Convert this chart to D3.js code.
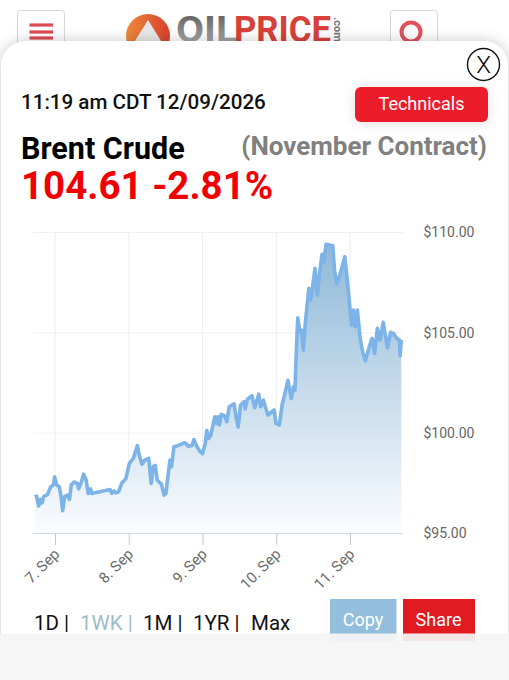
<!DOCTYPE html>
<html><head><meta charset="utf-8">
<script src="https://cdn.jsdelivr.net/npm/d3@7/dist/d3.min.js"></script>
<style>html,body{margin:0;padding:0;background:#fff;overflow:hidden}svg{display:block;font-family:Roboto,sans-serif}</style>
</head><body><svg id="c" width="509" height="680"></svg>
<script>
// Hours after 7 Sep 00:00
const hours=[-6.6,-6.0,-5.3,-4.7,-4.2,-3.6,-2.5,-1.4,-0.5,-0.1,0.5,1.4,1.9,2.5,3.1,4.0,4.7,5.3,6.2,7.3,7.7,8.6,9.3,10.1,10.8,11.6,12.0,17.9,18.5,19.2,19.8,20.7,21.7,23.1,24.2,25.5,26.8,27.4,28.3,29.2,30.5,31.3,32.0,32.6,33.3,34.6,35.5,36.1,36.8,37.4,37.9,38.7,39.6,42.3,43.4,44.6,45.2,46.1,47.2,48.0,48.9,49.4,50.0,50.7,52.0,52.6,53.0,53.5,54.1,55.2,55.9,56.7,58.3,58.9,59.6,60.4,61.5,61.9,62.6,64.1,65.0,66.3,66.9,67.8,69.3,71.3,71.9,73.0,73.9,74.7,75.8,76.9,77.6,78.1,78.6,79.0,79.7,80.2,80.8,81.5,82.6,83.2,83.9,84.6,85.4,86.0,86.9,87.5,88.2,90.4,91.0,91.7,92.7,93.6,94.3,94.9,96.0,96.5,97.1,97.7,98.4,99.3,100.1,101.0,102.1,103.2,104.0,104.9,105.8,106.8,107.5,108.2,109.2,110.1,111.2,112.1,112.3,112.7];
const prices=[96.80,96.84,96.34,96.67,96.50,96.84,96.90,97.30,97.40,97.80,97.39,97.30,96.89,96.11,96.80,96.89,96.67,97.39,97.54,97.47,97.20,97.55,97.93,97.67,96.97,97.20,96.97,97.17,96.97,97.10,97.00,97.05,97.47,97.72,98.47,98.72,99.35,98.88,98.43,98.63,98.72,97.47,98.30,98.37,97.63,97.44,96.89,96.97,97.88,98.63,98.30,99.30,99.33,99.50,99.33,99.36,99.66,99.33,99.06,98.96,99.46,100.11,99.71,99.88,100.79,100.46,100.79,100.38,100.91,100.84,100.55,101.29,101.44,100.79,100.28,101.38,101.54,101.18,101.67,101.84,101.24,101.92,101.29,101.62,100.88,101.13,100.46,100.38,101.38,101.87,102.61,101.71,102.29,102.12,104.37,105.73,105.03,105.11,104.12,105.53,107.19,106.61,107.36,108.19,106.86,107.86,108.89,108.52,109.39,109.32,108.02,107.44,107.86,108.36,108.77,107.94,106.19,105.36,106.11,105.28,106.11,104.70,104.03,103.57,104.20,104.70,103.95,105.20,104.62,105.50,104.87,104.23,105.00,104.95,104.70,104.62,103.84,104.62];
const xTickHours=[0,24,48,72,96];
const xTickLabels=["7. Sep","8. Sep","9. Sep","10. Sep","11. Sep"];
const yTicks=[95,100,105,110];
const ranges=[["1D |",34,"#111"],["1WK |",80,"#9dbcc6"],["1M |",143,"#111"],["1YR |",193,"#111"],["Max",251,"#111"]];

const svg=d3.select("#c");
const defs=svg.append("defs");
const grad=defs.append("linearGradient").attr("id","fill").attr("x1",0).attr("x2",0).attr("y1",0).attr("y2",1);
grad.append("stop").attr("offset",0).attr("stop-color","#8fb9d8");
grad.append("stop").attr("offset",1).attr("stop-color","#fbfcfe");
const logoG=defs.append("linearGradient").attr("id","logo").attr("x1",0).attr("x2",1).attr("y1",0).attr("y2",0);
logoG.append("stop").attr("offset",0).attr("stop-color","#ee8a3a");
logoG.append("stop").attr("offset",1).attr("stop-color","#d8402e");
const ltxt=defs.append("linearGradient").attr("id","ltxt").attr("x1",0).attr("x2",0).attr("y1",0).attr("y2",1);
ltxt.append("stop").attr("offset",0).attr("stop-color","#555");
ltxt.append("stop").attr("offset",1).attr("stop-color","#bbb");
const sh=defs.append("filter").attr("id","sh").attr("x","-10%").attr("y","-10%").attr("width","120%").attr("height","120%");
sh.append("feDropShadow").attr("dx",0).attr("dy",0).attr("stdDeviation",7).attr("flood-color","#000").attr("flood-opacity",0.22);
const bs=defs.append("filter").attr("id","bs").attr("x","-30%").attr("y","-60%").attr("width","160%").attr("height","220%");
bs.append("feDropShadow").attr("dx",0).attr("dy",1).attr("stdDeviation",6).attr("flood-color","#000").attr("flood-opacity",0.13);

// page header behind the card
const head=svg.append("g");
[[17,47],[390,47]].forEach(([x,w])=>head.append("rect").attr("x",x+.5).attr("y",10.5).attr("width",w).attr("height",50).attr("rx",3).attr("fill","#fff").attr("stroke","#d8d8d8"));
[25,32,38].forEach(y=>head.append("line").attr("x1",29.5).attr("x2",53).attr("y1",y).attr("y2",y).attr("stroke","#dc4a52").attr("stroke-width",3.2));
head.append("circle").attr("cx",411).attr("cy",32).attr("r",9.5).attr("fill","none").attr("stroke","#e2505c").attr("stroke-width",4);
head.append("circle").attr("cx",148).attr("cy",36).attr("r",22).attr("fill","url(#logo)");
head.append("path").attr("d","M148 20 L133 44 L163 44 Z").attr("fill","#e8e8e8");
head.append("text").attr("x",176).attr("y",42).attr("font-size",36).attr("font-weight",700).attr("textLength",62).attr("lengthAdjust","spacingAndGlyphs").attr("fill","url(#ltxt)").text("OIL");
head.append("text").attr("x",234).attr("y",42).attr("font-size",36).attr("font-weight",700).attr("textLength",97).attr("lengthAdjust","spacingAndGlyphs").attr("fill","#d8403a").text("PRICE");
head.append("text").attr("transform","translate(334,17) rotate(90)").attr("font-size",11).attr("font-weight",700).attr("fill","#777").text(".com");

// card
svg.append("rect").attr("x",1).attr("y",41).attr("width",507).attr("height",700).attr("rx",25).attr("fill","#fff").attr("filter","url(#sh)");

// chart
const x=d3.scaleLinear().domain([0,96]).range([55,350]);
const y=d3.scaleLinear().domain([95,110]).range([533,232]);
const data=hours.map((h,i)=>({h,p:prices[i]}));
const L=33,R=403;
const g=svg.append("g");
g.selectAll(".gy").data(yTicks.slice(1)).join("line").attr("x1",L).attr("x2",R).attr("y1",d=>y(d)+.5).attr("y2",d=>y(d)+.5).attr("stroke","#f0f0f2");
g.selectAll(".gx").data(xTickHours).join("line").attr("x1",d=>x(d)).attr("x2",d=>x(d)).attr("y1",232).attr("y2",533).attr("stroke","#eeeef4");
const peak=d3.max(prices);
grad.attr("gradientUnits","userSpaceOnUse").attr("y1",y(peak)).attr("y2",y(95)).attr("x1",0).attr("x2",0);
g.append("path").datum(data).attr("d",d3.area().x(d=>x(d.h)).y0(y(95)).y1(d=>y(d.p))).attr("fill","url(#fill)");
g.append("path").datum(data).attr("d",d3.line().x(d=>x(d.h)).y(d=>y(d.p))).attr("fill","none").attr("stroke","#7cb3e8").attr("stroke-width",3.6).attr("stroke-linejoin","round");

// x axis
const xa=d3.axisBottom(x).tickValues(xTickHours).tickSize(12).tickPadding(5).tickFormat((d,i)=>xTickLabels[i]);
const xg=svg.append("g").attr("transform","translate(0,533)").call(xa);
xg.select(".domain").remove();
xg.append("line").attr("x1",L).attr("x2",R).attr("y1",.5).attr("y2",.5).attr("stroke","#ccd6eb").attr("stroke-width",1.2);
xg.selectAll(".tick line").attr("stroke","#c8c8c8");
xg.selectAll(".tick text").attr("font-family","Roboto").attr("font-size",15).attr("fill","#6a6a6a").attr("text-anchor","end").attr("dy",0).attr("y",0).attr("x",0).attr("transform","translate(5,22) rotate(-45)");

// y axis
const ya=d3.axisRight(y).tickValues(yTicks).tickSize(0).tickPadding(0).tickFormat(d=>"$"+d.toFixed(2));
const yg=svg.append("g").attr("transform","translate(423.5,0.5)").call(ya);
yg.select(".domain").remove();
yg.selectAll("text").attr("font-family","Roboto").attr("font-size",14).attr("fill","#666");

// texts
const T=(s,x,y,fs,w,c,a)=>svg.append("text").attr("x",x).attr("y",y).attr("font-size",fs).attr("font-weight",w).attr("fill",c).attr("text-anchor",a||"start").text(s);
T("11:19 am CDT 12/09/2026",21,109,20.6,500,"#111");
T("Brent Crude",21,159,30.5,700,"#000");
T("(November Contract)",487,155,26,700,"#808080","end");
T("104.61 -2.81%",21,199,38.5,700,"#f00000");

// close
svg.append("circle").attr("cx",483.5).attr("cy",64.5).attr("r",16).attr("fill","#fff").attr("stroke","#111").attr("stroke-width",1.4);
T("X",483.5,73,24,300,"#000","middle");

// technicals
svg.append("rect").attr("x",355).attr("y",87).attr("width",133).attr("height",35).attr("rx",6).attr("fill","#ed1c2a").attr("filter","url(#bs)");
T("Technicals",421.5,110,18,400,"#fff","middle");

// range row
ranges.forEach(r=>T(r[0],r[1],630,20.5,400,r[2]));

// buttons
svg.append("rect").attr("x",330).attr("y",599).attr("width",66.5).attr("height",42).attr("fill","#93bfdc");
svg.append("rect").attr("x",403).attr("y",599).attr("width",72).attr("height",42).attr("fill","#e01b22");
T("Copy",363,626,18,400,"#fff","middle");
T("Share",438.5,626,18,400,"#fff","middle");

// footer band
svg.append("rect").attr("x",0).attr("y",633.5).attr("width",509).attr("height",60).attr("fill","#f5f5f5").attr("fill-opacity",0.93);
</script></body></html>
